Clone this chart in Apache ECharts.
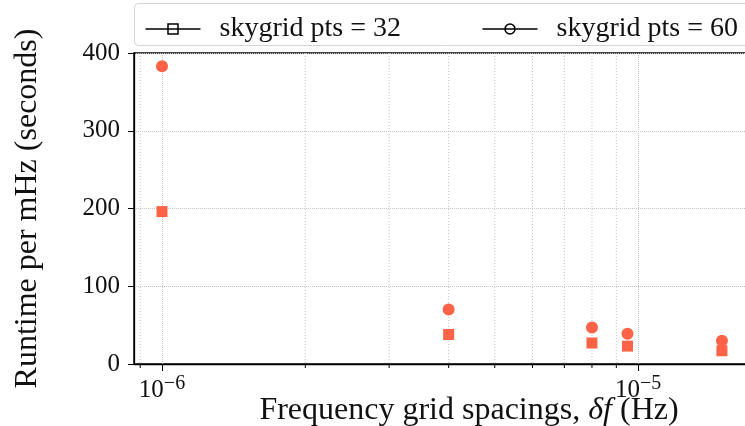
<!DOCTYPE html>
<html>
<head>
<meta charset="utf-8">
<script src="https://cdn.jsdelivr.net/npm/echarts@6/dist/echarts.min.js"></script>
<style>
  html, body { margin: 0; padding: 0; background: #fff; }
  #chart { width: 745px; height: 426px; }
</style>
</head>
<body>
<div id="chart"></div>
<script>
// Frequency grid spacing (Hz) of each run
const spacings = [1e-6, 4e-6, 8e-6, 9.5e-6, 1.5e-5];
// Runtime per mHz (seconds) for the two sky-grid sizes
const runtime32 = [196, 38, 27, 23, 17];
const runtime60 = [383, 70, 47, 39, 30];
// Legend labels
const seriesNames = ['skygrid pts = 32', 'skygrid pts = 60'];
// Minor log ticks shown on the frequency axis
const minorTicks = [9e-7, 2e-6, 3e-6, 4e-6, 5e-6, 6e-6, 7e-6, 8e-6, 9e-6];
// y axis ticks
const yMin = 0, yMax = 400, yStep = 100;
// x axis extent (log)
const xMin = 8.734e-7, xMax = 1.718e-5;

const FONT = '"Liberation Serif", "DejaVu Serif", serif';
const MARK = '#ff6347';
const GRIDC = '#c4c4c4';

const chart = echarts.init(document.getElementById('chart'), null, { renderer: 'canvas' });

const squareIcon = 'path://M0,5H55M22.5,0H32.5V10H22.5Z';
const circleIcon = 'path://M0,5H55M32.5,5A5,5,0,1,1,22.5,5A5,5,0,1,1,32.5,5Z';

const legendBase = {
  top: 15,
  padding: 0,
  itemWidth: 55,
  itemHeight: 10,
  itemStyle: { color: 'none', borderColor: '#000', borderWidth: 1.5 },
  textStyle: { fontFamily: FONT, fontSize: 28, color: '#111', padding: [0, 0, 0, 14] },
  selectedMode: false
};

chart.setOption({
  animation: false,
  backgroundColor: '#fff',
  grid: {
    left: 134, top: 53, right: -5, bottom: 62,
    outerBoundsMode: 'none', containLabel: false,
    show: true, borderColor: '#000', borderWidth: 1.5, backgroundColor: 'transparent'
  },
  graphic: [{
    type: 'rect', left: 134, top: 3, z: -1,
    shape: { width: 640, height: 42, r: 4 },
    style: { fill: 'rgba(255,255,255,0.8)', stroke: '#d4d4d4', lineWidth: 1 }
  }],
  legend: [
    Object.assign({}, legendBase, { left: 143, data: [{ name: seriesNames[0], icon: squareIcon }] }),
    Object.assign({}, legendBase, { left: 480, data: [{ name: seriesNames[1], icon: circleIcon }] })
  ],
  xAxis: {
    type: 'log', logBase: 10, min: xMin, max: xMax,
    name: '{n|Frequency grid spacings, }{i|δf}{n| (Hz)}',
    nameLocation: 'middle', nameGap: 31, nameMoveOverlap: false,
    nameTextStyle: {
      padding: [0, 0, 0, 54],
      rich: {
        n: { fontFamily: FONT, fontSize: 32, color: '#111' },
        i: { fontFamily: FONT, fontSize: 32, fontStyle: 'italic', color: '#111' }
      }
    },
    axisLine: { show: true, lineStyle: { color: '#000', width: 1.3 } },
    axisTick: { show: true, length: 7, lineStyle: { color: '#000', width: 1 } },
    axisLabel: {
      margin: 10, showMinLabel: false, showMaxLabel: false,
      formatter: v => '{b|10}{s|−' + Math.abs(Math.round(Math.log10(v))) + '}',
      rich: {
        b: { fontFamily: FONT, fontSize: 25, color: '#111' },
        s: { fontFamily: FONT, fontSize: 20, color: '#111', padding: [0, 0, 12, 0] }
      }
    },
    splitLine: { show: true, lineStyle: { color: GRIDC, type: 'dotted', width: 1 } }
  },
  yAxis: {
    type: 'value', min: yMin, max: yMax, interval: yStep,
    name: 'Runtime per mHz (seconds)',
    nameLocation: 'middle', nameGap: 90, nameMoveOverlap: false,
    nameTextStyle: { fontFamily: FONT, fontSize: 32, color: '#111' },
    axisLine: { show: true, lineStyle: { color: '#000', width: 1.3 } },
    axisTick: { show: true, length: 6, lineStyle: { color: '#000', width: 1 } },
    axisLabel: { margin: 14, fontFamily: FONT, fontSize: 25, color: '#111' },
    splitLine: { show: true, lineStyle: { color: GRIDC, type: 'dotted', width: 1 } }
  },
  series: [
    {
      // dotted minor gridlines and short minor ticks on the log axis
      type: 'custom', silent: true, clip: false, z: 1,
      data: minorTicks.map(v => [v, 0]),
      encode: { x: 0, y: 1 },
      renderItem: (params, api) => {
        const p = api.coord([api.value(0), 0]);
        const cs = params.coordSys;
        return {
          type: 'group',
          children: [
            { type: 'line', shape: { x1: p[0], y1: cs.y, x2: p[0], y2: cs.y + cs.height },
              style: { stroke: GRIDC, lineWidth: 1, lineDash: [1, 2] } },
            { type: 'line', shape: { x1: p[0], y1: cs.y + cs.height, x2: p[0], y2: cs.y + cs.height + 4 },
              style: { stroke: '#000', lineWidth: 1 } }
          ]
        };
      }
    },
    {
      name: seriesNames[0], type: 'scatter', symbol: 'rect', symbolSize: 11, z: 3,
      itemStyle: { color: MARK, opacity: 1 },
      data: spacings.map((x, i) => [x, runtime32[i]])
    },
    {
      name: seriesNames[1], type: 'scatter', symbol: 'circle', symbolSize: 12, z: 3,
      itemStyle: { color: MARK, opacity: 1 },
      data: spacings.map((x, i) => [x, runtime60[i]])
    }
  ]
});
</script>
</body>
</html>
